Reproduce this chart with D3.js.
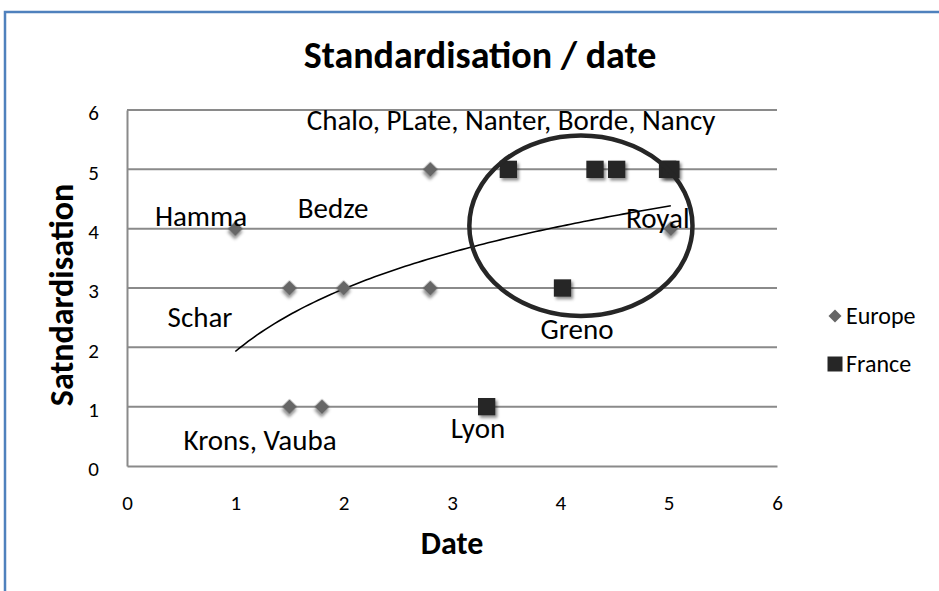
<!DOCTYPE html>
<html><head><meta charset="utf-8">
<script src="https://cdn.jsdelivr.net/npm/d3@7"></script>
<style>html,body{margin:0;padding:0;background:#fff;}svg{display:block;}</style>
</head><body><svg id="c" width="939" height="591"></svg>
<script>
// Data
const europeX = [1, 1.5, 2, 2.8, 2.8, 1.5, 1.8, 5.02];
const europeY = [4, 3, 3, 5, 3, 1, 1, 4];
const franceX = [3.52, 4.32, 4.52, 4.99, 5.02, 4.02, 3.32];
const franceY = [5, 5, 5, 5, 5, 3, 1];
const xTicks = [0, 1, 2, 3, 4, 5, 6];
const yTicks = [0, 1, 2, 3, 4, 5, 6];
const labelText = ["Chalo, PLate, Nanter, Borde, Nancy", "Hamma", "Bedze", "Schar", "Krons, Vauba", "Lyon", "Greno", "Royal"];
const labelX = [3.545, 0.683, 1.902, 0.674, 1.228, 3.24, 4.154, 4.9];
const labelY = [5.66, 4.05, 4.18, 2.34, 0.27, 0.48, 2.14, 4.01];
const seriesNames = ["Europe", "France"];
const seriesColors = ["#666666", "#262626"];

const svg = d3.select("#c");
const x = d3.scaleLinear().domain([0, 6]).range([127, 777]);
const y = d3.scaleLinear().domain([0, 6]).range([466, 110]);
const font = "Carlito, Calibri, Lato, sans-serif";

// shadow filter
const defs = svg.append("defs");
const f = defs.append("filter").attr("id", "sh").attr("x", "-50%").attr("y", "-50%").attr("width", "200%").attr("height", "200%");
f.append("feDropShadow").attr("dx", 2).attr("dy", 2.5).attr("stdDeviation", 1.8).attr("flood-color", "#000").attr("flood-opacity", 0.45);

// outer frame
svg.append("rect").attr("x", 5).attr("y", 12).attr("width", 960).attr("height", 620)
  .attr("fill", "#fff").attr("stroke", "#4F81BD").attr("stroke-width", 2.5);

// gridlines
svg.append("g").selectAll("line").data(yTicks.filter(d => d > 0)).join("line")
  .attr("x1", x(0)).attr("x2", x(6)).attr("y1", d => y(d)).attr("y2", d => y(d))
  .attr("stroke", "#8a8a8a").attr("stroke-width", 2);

// axes
const xAxis = svg.append("g").attr("transform", `translate(0,${y(0)})`)
  .call(d3.axisBottom(x).tickValues(xTicks).tickFormat(d3.format("d")).tickSize(0));
const yAxis = svg.append("g").attr("transform", `translate(${x(0)},0)`)
  .call(d3.axisLeft(y).tickValues(yTicks).tickFormat(d3.format("d")).tickSize(0).tickPadding(28));
[xAxis, yAxis].forEach(a => {
  a.select(".domain").attr("stroke", "#8a8a8a").attr("stroke-width", 2);
  a.selectAll("text").attr("font-family", font).attr("font-size", 21).attr("fill", "#000");
});
xAxis.selectAll("text").attr("y", 44).attr("dy", 0);
yAxis.selectAll("text").attr("y", 3);

// trend line: logarithmic least-squares fit over all points
const allX = europeX.concat(franceX), allY = europeY.concat(franceY);
const lx = allX.map(Math.log);
const mx = d3.mean(lx), my = d3.mean(allY);
const b = d3.sum(lx, (v, i) => (v - mx) * (allY[i] - my)) / d3.sum(lx, v => (v - mx) * (v - mx));
const a = my - b * mx;
const xmin = d3.min(allX), xmax = d3.max(allX);
const tx = d3.range(0, 101).map(i => xmin + (xmax - xmin) * i / 100);
svg.append("path").datum(tx)
  .attr("d", d3.line().x(d => x(d)).y(d => y(a + b * Math.log(d))))
  .attr("fill", "none").attr("stroke", "#000").attr("stroke-width", 1.6);

// markers
svg.append("g").selectAll("path").data(europeX.map((v, i) => [v, europeY[i]])).join("path")
  .attr("d", d3.symbol(d3.symbolSquare, 112))
  .attr("transform", d => `translate(${x(d[0])},${y(d[1])}) rotate(45)`)
  .attr("fill", seriesColors[0]).attr("filter", "url(#sh)");
svg.append("g").selectAll("path").data(franceX.map((v, i) => [v, franceY[i]])).join("path")
  .attr("d", d3.symbol(d3.symbolSquare, 300))
  .attr("transform", d => `translate(${x(d[0])},${y(d[1])})`)
  .attr("fill", seriesColors[1]).attr("filter", "url(#sh)");

// ellipse
svg.append("ellipse").attr("cx", x(4.19)).attr("cy", y(4.05))
  .attr("rx", x(1.03) - x(0)).attr("ry", y(0) - y(1.52))
  .attr("fill", "none").attr("stroke", "#262626").attr("stroke-width", 4.5);

// point labels
svg.append("g").selectAll("text").data(labelText).join("text")
  .attr("x", (d, i) => x(labelX[i])).attr("y", (d, i) => y(labelY[i]))
  .attr("text-anchor", "middle")
  .attr("font-family", font).attr("font-size", 29).attr("fill", "#000")
  .text(d => d);

// titles
svg.append("text").attr("x", 480).attr("y", 68).attr("text-anchor", "middle")
  .attr("font-family", font).attr("font-weight", "bold").attr("font-size", 38).text("Standardisation / date");
svg.append("text").attr("x", x(3)).attr("y", 554).attr("text-anchor", "middle")
  .attr("font-family", font).attr("font-weight", "bold").attr("font-size", 32).text("Date");
svg.append("text").attr("transform", `translate(73,295) rotate(-90)`).attr("text-anchor", "middle")
  .attr("font-family", font).attr("font-weight", "bold").attr("font-size", 34).text("Satndardisation");

// legend
const lg = svg.append("g");
seriesNames.forEach((n, i) => {
  const ly = 316 + i * 48;
  lg.append("path").attr("d", d3.symbol(d3.symbolSquare, i === 0 ? 85 : 225)())
    .attr("transform", `translate(835,${ly})${i === 0 ? " rotate(45)" : ""}`).attr("fill", seriesColors[i]);
  lg.append("text").attr("x", 846).attr("y", ly + 8)
    .attr("font-family", font).attr("font-size", 24).text(n);
});
</script></body></html>
